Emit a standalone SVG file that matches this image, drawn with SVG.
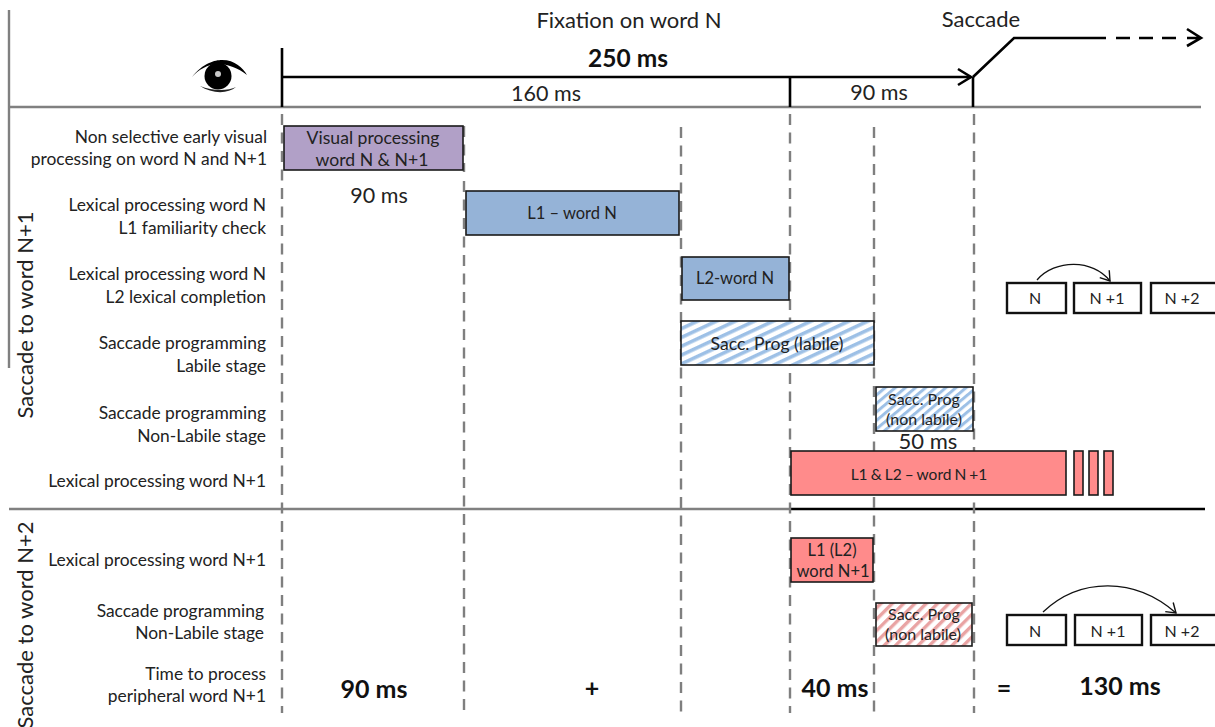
<svg xmlns="http://www.w3.org/2000/svg" width="1215" height="727" viewBox="0 0 1215 727">
<style>
text{font-family:Lato,"Open Sans",sans-serif;fill:#222}
.lb{font-size:17.4px;text-anchor:end}
.bx{font-size:16.5px;text-anchor:middle}
.bl{font-size:17.6px;text-anchor:middle}
.sm{font-size:16px;text-anchor:middle}
.t{font-size:21.5px;text-anchor:middle}
.h{font-size:22px;text-anchor:middle}
.b{font-size:25px;font-weight:700;text-anchor:middle;fill:#111}
.v{font-size:22px;text-anchor:middle}
.dash{stroke:#7f7f7f;stroke-width:2.4;stroke-dasharray:11 7.5;fill:none}
.r{stroke:#1a1a1a;stroke-width:1.6}
.k{stroke:#000;stroke-width:2.6;fill:none}
.w{fill:#fff;stroke:#111;stroke-width:2.4}
.g{stroke:#808080;stroke-width:2.4;fill:none}
</style>
<defs>
<pattern id="hb" width="8" height="8" patternUnits="userSpaceOnUse" patternTransform="rotate(-25)">
<rect width="8" height="8" fill="#fff"/><rect width="8" height="3.6" fill="#9dc0e6"/>
</pattern>
<pattern id="hb2" width="6.5" height="6.5" patternUnits="userSpaceOnUse" patternTransform="rotate(-40)">
<rect width="6.5" height="6.5" fill="#fff"/><rect width="6.5" height="3" fill="#9dc0e6"/>
</pattern>
<pattern id="hr" width="8" height="8" patternUnits="userSpaceOnUse" patternTransform="rotate(-45)">
<rect width="8" height="8" fill="#fff"/><rect width="8" height="3.4" fill="#e9a3a3"/>
</pattern>
<marker id="ah" markerWidth="14" markerHeight="14" refX="11" refY="7" orient="auto" markerUnits="userSpaceOnUse"><path d="M2 1L11 7L2 13" fill="none" stroke="#111" stroke-width="1.4"/></marker>
</defs>
<g id="connectors">
<path class="g" d="M9 10V368"/>
<path class="g" d="M9 107H1201"/>
<path class="g" d="M9 509H790"/>
<path d="M790 509H1205" stroke="#000" stroke-width="2.6" fill="none"/>
<path class="k" d="M282 48V107"/>
<path class="k" d="M790 77V107"/>
<path class="k" d="M973 77V107"/>
<path class="k" d="M282 77H971"/>
<path class="k" d="M958 69L971 77L958 85"/>
<path class="k" d="M973 77L1014 38H1106"/>
<path class="k" d="M1116 38H1176" stroke-dasharray="14 9"/>
<path class="k" d="M1187 38H1200M1187 29L1201 38L1187 46"/>
<path class="dash" d="M282 114V713"/>
<path class="dash" d="M464 181V713"/>
<path class="dash" d="M464 126V172"/>
<path class="dash" d="M681 127V713"/>
<path class="dash" d="M790 114V713"/>
<path class="dash" d="M874 127V713"/>
<path class="dash" d="M974 114V713"/>
<path d="M1037 280C1055 259 1093 259 1110 281" fill="none" stroke="#111" stroke-width="1.3" marker-end="url(#ah)"/>
<path d="M1043 612C1080 577 1135 577 1176 613" fill="none" stroke="#111" stroke-width="1.3" marker-end="url(#ah)"/>
</g>
<g id="eye">
<path d="M192 77C203 63 215 60 222 60C235 60 243 68 247 75C238 68 228 64 218 64C208 64 198 70 192 77Z" fill="#000"/>
<circle cx="218" cy="76" r="13.5" fill="#000"/>
<circle cx="218" cy="74" r="3" fill="#c8c8c8"/>
<path d="M200 86C212 94 228 94 236 87C228 91 212 91 200 86Z" fill="#222"/>
</g>
<g id="header">
<text class="h" x="629" y="28">Fixation on word N</text>
<text class="h" x="981" y="27">Saccade</text>
<text x="628" y="67" text-anchor="middle" font-size="24.5" font-weight="700" style="fill:#111">250 ms</text>
<text class="t" x="546" y="101">160 ms</text>
<text class="t" x="879" y="100">90 ms</text>
</g>
<g id="side-labels">
<text class="v" transform="translate(33,315) rotate(-90)">Saccade to word N+1</text>
<text class="v" transform="translate(33,625) rotate(-90)">Saccade to word N+2</text>
</g>
<g id="row-labels">
<text class="lb" x="267" y="143">Non selective early visual</text>
<text class="lb" x="267" y="165">processing on word N and N+1</text>
<text class="lb" x="266" y="211">Lexical processing word N</text>
<text class="lb" x="266" y="234">L1 familiarity check</text>
<text class="lb" x="266" y="280">Lexical processing word N</text>
<text class="lb" x="266" y="303">L2 lexical completion</text>
<text class="lb" x="266" y="349">Saccade programming</text>
<text class="lb" x="266" y="372">Labile stage</text>
<text class="lb" x="266" y="419">Saccade programming</text>
<text class="lb" x="266" y="442">Non-Labile stage</text>
<text class="lb" x="266" y="487">Lexical processing word N+1</text>
<text class="lb" x="266" y="566">Lexical processing word N+1</text>
<text class="lb" x="264" y="617">Saccade programming</text>
<text class="lb" x="264" y="639">Non-Labile stage</text>
<text class="lb" x="266" y="680">Time to process</text>
<text class="lb" x="266" y="702">peripheral word N+1</text>
</g>
<g id="n-visual"><rect class="r" x="284" y="126" width="179" height="44" fill="#b1a0c7"/><text class="bl" x="373" y="144">Visual processing</text><text class="bl" x="372" y="166">word N &amp; N+1</text></g>
<text id="l-90a" class="t" x="379" y="203">90 ms</text>
<g id="n-l1"><rect class="r" x="466" y="191" width="213" height="44" fill="#95b3d7"/><text class="bx" x="572" y="219">L1 – word N</text></g>
<g id="n-l2"><rect class="r" x="682" y="257" width="107" height="43" fill="#95b3d7"/><text class="bx" x="735" y="284">L2-word N</text></g>
<g id="n-labile"><rect class="r" x="681" y="321" width="193" height="44" fill="url(#hb)"/><text class="bl" x="777" y="350">Sacc. Prog (labile)</text></g>
<g id="n-nonlabile"><rect class="r" x="876" y="387" width="97" height="44" fill="url(#hb2)"/><text class="sm" x="924" y="405">Sacc. Prog</text><text class="sm" x="924" y="425">(non labile)</text></g>
<text id="l-50" x="928" y="449" text-anchor="middle" font-size="22">50 ms</text>
<g id="n-l12"><rect class="r" x="791" y="451" width="275" height="44" fill="#ff8b8b"/><text x="919" y="480" text-anchor="middle" font-size="15.5" word-spacing="-0.9">L1 &amp; L2 – word N +1</text></g>
<g id="n-bars"><rect class="r" x="1074" y="451" width="9" height="44" fill="#ff8b8b"/><rect class="r" x="1089" y="451" width="9" height="44" fill="#ff8b8b"/><rect class="r" x="1104" y="451" width="9" height="44" fill="#ff8b8b"/></g>
<g id="n-l1l2"><rect class="r" x="791" y="538" width="82" height="44" fill="#ff8b8b"/><text class="bx" x="832" y="556">L1 (L2)</text><text class="bx" x="833" y="577">word N+1</text></g>
<g id="n-nonlabile2"><rect class="r" x="876" y="603" width="96" height="43" fill="url(#hr)"/><text class="sm" x="924" y="620">Sacc. Prog</text><text class="sm" x="923" y="640">(non labile)</text></g>
<g id="w1"><rect class="w" x="1007" y="283" width="59" height="30"/><text class="sm" x="1035" y="304">N</text></g>
<g id="w2"><rect class="w" x="1074" y="283" width="67" height="30"/><text class="sm" x="1107" y="304">N +1</text></g>
<g id="w3"><rect class="w" x="1151" y="283" width="66" height="30"/><text class="sm" x="1182" y="304">N +2</text></g>
<g id="w4"><rect class="w" x="1007" y="615" width="59" height="30"/><text class="sm" x="1035" y="637">N</text></g>
<g id="w5"><rect class="w" x="1075" y="615" width="67" height="30"/><text class="sm" x="1108" y="637">N +1</text></g>
<g id="w6"><rect class="w" x="1151" y="615" width="66" height="30"/><text class="sm" x="1182" y="637">N +2</text></g>
<g id="totals">
<text class="b" x="374" y="698">90 ms</text>
<text class="b" x="592" y="697">+</text>
<text class="b" x="835" y="697">40 ms</text>
<text class="b" x="1004" y="697">=</text>
<text class="b" x="1120" y="695">130 ms</text>
</g>
</svg>
